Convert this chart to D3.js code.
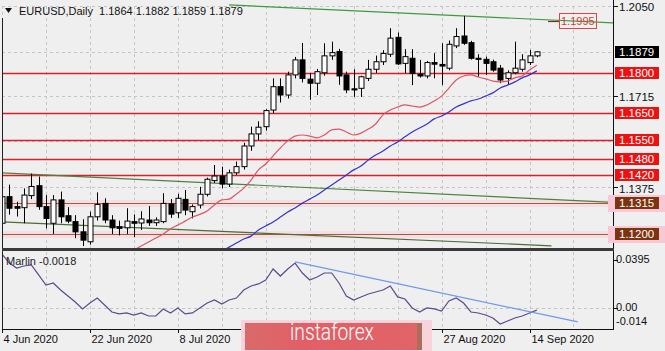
<!DOCTYPE html>
<html><head><meta charset="utf-8">
<script src="https://cdn.jsdelivr.net/npm/d3@7"></script>
<style>body{margin:0;background:#efefef;} svg{display:block;font-family:"Liberation Sans",Arial,sans-serif;}</style>
</head><body>
<svg id="c" width="665" height="351"></svg>
<script>
// ---------- data ----------
const dates = ["2020-06-04","2020-06-05","2020-06-08","2020-06-09","2020-06-10","2020-06-11","2020-06-12","2020-06-15","2020-06-16","2020-06-17","2020-06-18","2020-06-19","2020-06-22","2020-06-23","2020-06-24","2020-06-25","2020-06-26","2020-06-29","2020-06-30",
"2020-07-01","2020-07-02","2020-07-03","2020-07-06","2020-07-07","2020-07-08","2020-07-09","2020-07-10","2020-07-13","2020-07-14","2020-07-15","2020-07-16","2020-07-17","2020-07-20","2020-07-21","2020-07-22","2020-07-23","2020-07-24","2020-07-27","2020-07-28","2020-07-29","2020-07-30","2020-07-31",
"2020-08-03","2020-08-04","2020-08-05","2020-08-06","2020-08-07","2020-08-10","2020-08-11","2020-08-12","2020-08-13","2020-08-14","2020-08-17","2020-08-18","2020-08-19","2020-08-20","2020-08-21","2020-08-24","2020-08-25","2020-08-26","2020-08-27","2020-08-28","2020-08-31",
"2020-09-01","2020-09-02","2020-09-03","2020-09-04","2020-09-07","2020-09-08","2020-09-09","2020-09-10","2020-09-11","2020-09-14","2020-09-15"];
const openP  = [1.1240,1.1339,1.1302,1.1298,1.1343,1.1380,1.1302,1.1240,1.1327,1.1268,1.1246,1.1208,1.1171,1.1264,1.1314,1.1252,1.1227,1.1223,1.1246,
1.1241,1.1252,1.1242,1.1246,1.1312,1.1279,1.1329,1.1283,1.1308,1.1348,1.1399,1.1416,1.1386,1.1428,1.1451,1.1528,1.1573,1.1600,1.1662,1.1749,1.1718,1.1793,1.1849,
1.1777,1.1762,1.1801,1.1864,1.1880,1.1793,1.1741,1.1743,1.1780,1.1814,1.1842,1.1870,1.1933,1.1836,1.1855,1.1796,1.1789,1.1839,1.1832,1.1818,1.1901,
1.1938,1.1913,1.1855,1.1851,1.1842,1.1818,1.1780,1.1801,1.1814,1.1839,1.1864];
const highP  = [1.1362,1.1384,1.1320,1.1370,1.1425,1.1414,1.1345,1.1345,1.1358,1.1300,1.1270,1.1255,1.1283,1.1355,1.1333,1.1270,1.1250,1.1296,1.1273,
1.1285,1.1304,1.1262,1.1352,1.1330,1.1350,1.1364,1.1310,1.1376,1.1410,1.1457,1.1451,1.1440,1.1470,1.1540,1.1600,1.1620,1.1665,1.1780,1.1780,1.1805,1.1860,1.1912,
1.1800,1.1815,1.1911,1.1917,1.1890,1.1805,1.1814,1.1790,1.1849,1.1865,1.1885,1.1967,1.1951,1.1889,1.1889,1.1849,1.1845,1.1874,1.1911,1.1921,1.1967,
1.2013,1.1920,1.1870,1.1861,1.1850,1.1830,1.1810,1.1917,1.1870,1.1886,1.1882];
const lowP   = [1.1213,1.1272,1.1265,1.1240,1.1330,1.1290,1.1221,1.1200,1.1240,1.1240,1.1184,1.1155,1.1160,1.1250,1.1240,1.1200,1.1195,1.1200,1.1188,
1.1215,1.1230,1.1230,1.1240,1.1260,1.1260,1.1270,1.1258,1.1295,1.1340,1.1390,1.1370,1.1375,1.1420,1.1440,1.1510,1.1550,1.1585,1.1650,1.1690,1.1705,1.1780,1.1765,
1.1700,1.1718,1.1790,1.1849,1.1756,1.1725,1.1711,1.1711,1.1770,1.1800,1.1830,1.1860,1.1830,1.1799,1.1755,1.1783,1.1780,1.1780,1.1755,1.1810,1.1893,
1.1905,1.1850,1.1786,1.1793,1.1805,1.1762,1.1759,1.1795,1.1805,1.1830,1.1859];
const closeP = [1.1339,1.1296,1.1296,1.1345,1.1377,1.1302,1.1258,1.1327,1.1264,1.1248,1.1208,1.1177,1.1264,1.1310,1.1252,1.1223,1.1221,1.1248,1.1240,
1.1256,1.1242,1.1252,1.1314,1.1274,1.1333,1.1289,1.1302,1.1348,1.1404,1.1416,1.1386,1.1428,1.1451,1.1528,1.1573,1.1598,1.1660,1.1749,1.1718,1.1793,1.1849,1.1780,
1.1762,1.1805,1.1864,1.1876,1.1789,1.1737,1.1737,1.1786,1.1814,1.1842,1.1873,1.1930,1.1834,1.1861,1.1799,1.1789,1.1839,1.1833,1.1826,1.1907,1.1936,
1.1911,1.1855,1.1851,1.1836,1.1811,1.1774,1.1801,1.1818,1.1849,1.1864,1.1879];

const maRedStart = 18;
const maRed = [1.1140,1.1155,1.1170,1.1185,1.1200,1.1219,1.1233,1.1248,1.1263,1.1273,1.1286,1.1308,1.1327,1.1330,1.1349,1.1371,1.1401,1.1439,1.1461,1.1491,1.1521,1.1547,1.1565,1.1569,1.1565,1.1558,1.1569,1.1588,1.1591,1.1580,1.1569,1.1576,1.1591,1.1610,1.1644,1.1662,1.1673,1.1681,1.1677,1.1673,1.1681,1.1696,1.1714,1.1744,1.1774,1.1789,1.1793,1.1785,1.1778,1.1770,1.1767,1.1770,1.1782,1.1789,1.1811,1.1829];
const maBlueStart = 30;
const maBlue = [1.1137,1.1151,1.1166,1.1181,1.1192,1.1215,1.1230,1.1245,1.1263,1.1282,1.1297,1.1315,1.1330,1.1345,1.1364,1.1383,1.1401,1.1420,1.1439,1.1453,1.1476,1.1494,1.1509,1.1528,1.1543,1.1562,1.1580,1.1595,1.1610,1.1629,1.1640,1.1655,1.1673,1.1685,1.1696,1.1703,1.1714,1.1726,1.1744,1.1755,1.1767,1.1782,1.1793,1.1808];

const marlin = [0.0444,0.0370,0.0329,0.0346,0.0354,0.0272,0.0189,0.0206,0.0148,0.0099,0.0049,-0.0008,0.0041,0.0082,0.0025,-0.0033,-0.0049,-0.0041,-0.0058,
-0.0041,-0.0066,-0.0066,-0.0008,-0.0041,0.0000,-0.0049,-0.0041,0.0000,0.0041,0.0066,0.0033,0.0066,0.0082,0.0148,0.0181,0.0198,0.0230,0.0321,0.0263,0.0321,0.0370,0.0288,
0.0230,0.0255,0.0288,0.0288,0.0206,0.0099,0.0066,0.0091,0.0115,0.0132,0.0148,0.0181,0.0091,0.0074,0.0000,-0.0033,0.0000,-0.0008,-0.0025,0.0058,0.0082,
0.0041,-0.0033,-0.0041,-0.0058,-0.0082,-0.0132,-0.0107,-0.0082,-0.0066,-0.0041,-0.0018];

const redLevels = [1.1800,1.1650,1.1550,1.1480,1.1420];
const brownLevels = [1.1315,1.1200];
const currentPrice = 1.1879;
const priceTicks = [1.2050,1.1715,1.1375];
const gridPrices = [1.2050,1.1880,1.1715,1.1545,1.1375,1.1205];
const marlinTicks = [0.0395,0.00,-0.014];
const marlinTickLabels = ["0.0395","0.00","-0.014"];
const dateTickIdx = [0,12,24,36,48,60,72];
const dateTickLabels = ["4 Jun 2020","22 Jun 2020","8 Jul 2020","24 Jul 2020","11 Aug 2020","27 Aug 2020","14 Sep 2020"];
const gridIdx = [0,6,12,18,24,30,36,42,48,54,60,66,72,78];
const greenTop = [[31,1.2054],[84,1.1986]];
const greenMid = [[0,1.1428],[84,1.1317]];
const greenLow = [[0,1.1245],[75,1.1156]];
const marlinTrend = [[40,0.0379],[78.6,-0.0115]];
const noteLevel = 1.1995;
const title = "EURUSD,Daily  1.1864 1.1882 1.1859 1.1879";
const indicatorName = "Marlin -0.0018";

// ---------- layout ----------
const L = 2, R = 613, mainTop = 3, mainBot = 248, subTop = 252, subBot = 329;
const svg = d3.select("#c");
const x = d3.scaleLinear().domain([0,72]).range([2,529.5]);
const y = d3.scaleLinear().domain([1.1144,1.2061]).range([249,3]);
const ym = d3.scaleLinear().domain([-0.0173,0.0461]).range([329,252]);
const cx = i => Math.round(x(i)) + 0.5;

svg.append("rect").attr("width",665).attr("height",351).attr("fill","#efefef");
const defs = svg.append("defs");
defs.append("clipPath").attr("id","cm").append("rect").attr("x",L).attr("y",mainTop).attr("width",R-L).attr("height",mainBot-mainTop);
defs.append("clipPath").attr("id","cs").append("rect").attr("x",L).attr("y",subTop).attr("width",R-L).attr("height",subBot-subTop);

const gm = svg.append("g").attr("clip-path","url(#cm)");
const gs = svg.append("g").attr("clip-path","url(#cs)");

// grid
gridIdx.forEach(i=>{
  [gm,gs].forEach(g=>g.append("line").attr("x1",cx(i)).attr("x2",cx(i)).attr("y1",0).attr("y2",351)
    .attr("stroke","#c4c4c4").attr("stroke-dasharray","3,3"));
});
gridPrices.forEach(p=>{
  gm.append("line").attr("x1",L).attr("x2",R).attr("y1",Math.round(y(p))+0.5).attr("y2",Math.round(y(p))+0.5)
    .attr("stroke","#c4c4c4").attr("stroke-dasharray","3,3");
});
gs.append("line").attr("x1",L).attr("x2",R).attr("y1",Math.round(ym(0))+0.5).attr("y2",Math.round(ym(0))+0.5)
  .attr("stroke","#c4c4c4").attr("stroke-dasharray","3,3");

// brown levels with pink band
brownLevels.forEach(p=>{
  const yy = Math.round(y(p));
  gm.append("rect").attr("x",L).attr("width",R-L).attr("y",yy-3).attr("height",7).attr("fill","#f3dfe3");
  gm.append("line").attr("x1",L).attr("x2",R).attr("y1",yy+0.5).attr("y2",yy+0.5).attr("stroke","#a65a3a").attr("stroke-width",1.2);
});
// red levels
redLevels.forEach(p=>{
  const yy = Math.round(y(p))+0.5;
  gm.append("line").attr("x1",L).attr("x2",R).attr("y1",yy).attr("y2",yy).attr("stroke","#dc1e28").attr("stroke-width",1.3);
});

// green trend lines
const tl = d3.line().x(d=>x(d[0])).y(d=>y(d[1]));
gm.append("path").attr("d",tl(greenTop)).attr("fill","none").attr("stroke","#3f9a3f").attr("stroke-width",1.2);
gm.append("path").attr("d",tl(greenMid)).attr("fill","none").attr("stroke","#4f8040").attr("stroke-width",1.2);
gm.append("path").attr("d",tl(greenLow)).attr("fill","none").attr("stroke","#4a6e36").attr("stroke-width",1.2);

// note 1.1995
const ny = Math.round(y(noteLevel));
gm.append("line").attr("x1",548).attr("x2",559).attr("y1",ny+0.5).attr("y2",ny+0.5).attr("stroke","#7a3030").attr("stroke-width",1.2);
gm.append("rect").attr("x",559.5).attr("y",ny-7.5).attr("width",37).attr("height",15).attr("fill","none").attr("stroke","#d84848");
gm.append("text").attr("x",561).attr("y",ny+4).attr("font-size",11).attr("fill","#d04040").text(noteLevel.toFixed(4));

// candles
const idx = d3.range(dates.length);
idx.forEach(i=>{
  const xc = cx(i);
  const up = closeP[i] >= openP[i];
  gm.append("line").attr("x1",xc).attr("x2",xc).attr("y1",y(highP[i])).attr("y2",y(lowP[i])).attr("stroke","#000");
  const top = y(Math.max(openP[i],closeP[i])), bot = y(Math.min(openP[i],closeP[i]));
  gm.append("rect").attr("x",xc-2.5).attr("width",5).attr("y",top).attr("height",Math.max(1,bot-top))
    .attr("fill",up?"#fff":"#000").attr("stroke","#000").attr("stroke-width",1);
});

// moving averages
const maLine = (arr,start)=>d3.line().x((d,k)=>x(start+k)).y(d=>y(d)).curve(d3.curveMonotoneX)(arr);
gm.append("path").attr("d",maLine(maRed,maRedStart)).attr("fill","none").attr("stroke","#dd5566").attr("stroke-width",1.2);
gm.append("path").attr("d",maLine(maBlue,maBlueStart)).attr("fill","none").attr("stroke","#3434c8").attr("stroke-width",1.2);

// marlin panel
gs.append("path").attr("d",d3.line().x((d,i)=>x(i)).y(d=>ym(d))(marlin)).attr("fill","none").attr("stroke","#5e4a8c").attr("stroke-width",1.2);
gs.append("path").attr("d",d3.line().x(d=>x(d[0])).y(d=>ym(d[1]))(marlinTrend)).attr("fill","none").attr("stroke","#6f9be6").attr("stroke-width",1.2);
svg.append("text").attr("x",6).attr("y",265).attr("font-size",11).attr("fill","#222").text(indicatorName);

// frames
svg.append("line").attr("x1",2.5).attr("x2",2.5).attr("y1",18).attr("y2",subBot).attr("stroke","#222");
svg.append("line").attr("x1",R+0.5).attr("x2",R+0.5).attr("y1",0).attr("y2",subBot+1).attr("stroke","#111");
svg.append("rect").attr("x",2).attr("y",248).attr("width",R-1).attr("height",3).attr("fill","#3a3a3a");
svg.append("line").attr("x1",2).attr("x2",R+1).attr("y1",subBot+0.5).attr("y2",subBot+0.5).attr("stroke","#111");

// title
svg.append("path").attr("d","M5,8 L12,8 L8.5,13 Z").attr("fill","#111");
svg.append("text").attr("x",19).attr("y",15).attr("font-size",11).attr("fill","#111").attr("xml:space","preserve").text(title);

// right axis ticks
priceTicks.forEach(p=>{
  const yy = Math.round(y(p))+0.5;
  const shift = (p===1.1375)?1.5:0;
  svg.append("line").attr("x1",R+1).attr("x2",R+5).attr("y1",yy).attr("y2",yy).attr("stroke","#111");
  svg.append("text").attr("x",619).attr("y",yy+4+shift).attr("font-size",11.5).attr("fill","#111").text(p.toFixed(4));
});
const box = (p,bg,fg,halo)=>{
  const yy = Math.round(y(p));
  if(halo) svg.append("rect").attr("x",608).attr("y",yy-8).attr("width",57).attr("height",17).attr("fill",halo);
  svg.append("rect").attr("x",615).attr("y",yy-6).attr("width",44).attr("height",12).attr("fill",bg);
  svg.append("text").attr("x",619).attr("y",yy+4).attr("font-size",11.5).attr("fill",fg).text(p.toFixed(4));
};
box(currentPrice,"#000","#fff");
redLevels.forEach(p=>box(p,"#ee1111","#fff"));
brownLevels.forEach(p=>box(p,"#7c3410","#fff","#f8c8d4"));

// marlin axis
marlinTicks.forEach((v,k)=>{
  const yy = Math.round(ym(v))+0.5;
  if(k<2) svg.append("line").attr("x1",R+1).attr("x2",R+5).attr("y1",yy).attr("y2",yy).attr("stroke","#111");
  svg.append("text").attr("x",616).attr("y",(k===2?yy-1:yy+2)).attr("font-size",11).attr("fill","#111").text(marlinTickLabels[k]);
});

// banner
const bx0 = 241, bx1 = 432;
// date axis
dateTickIdx.forEach((i,k)=>{
  const xc = cx(i);
  svg.append("line").attr("x1",xc).attr("x2",xc).attr("y1",subBot).attr("y2",subBot+4).attr("stroke","#111");
  if(xc < bx0-5 || xc > bx1)
    svg.append("text").attr("x",xc+1).attr("y",343).attr("font-size",11).attr("fill","#111").text(dateTickLabels[k]);
});
svg.append("rect").attr("x",bx0).attr("y",320).attr("width",bx1-bx0).attr("height",31).attr("fill","#f8d3dc");
const grad = defs.append("linearGradient").attr("id","bg");
grad.append("stop").attr("offset","0").attr("stop-color","#d96a6a");
grad.append("stop").attr("offset","0.35").attr("stop-color","#e25f66");
grad.append("stop").attr("offset","1").attr("stop-color","#e06468");
svg.append("rect").attr("x",245).attr("y",323).attr("width",173).attr("height",27).attr("fill","url(#bg)");
svg.append("rect").attr("x",417).attr("y",323).attr("width",5).attr("height",27).attr("fill","#a8705c");
svg.append("text").attr("x",290).attr("y",340).attr("font-family","Roboto, sans-serif").attr("font-weight",300)
  .attr("font-size",24).attr("fill","#fff").attr("textLength",84).attr("lengthAdjust","spacingAndGlyphs").text("instaforex");
</script>
</body></html>
